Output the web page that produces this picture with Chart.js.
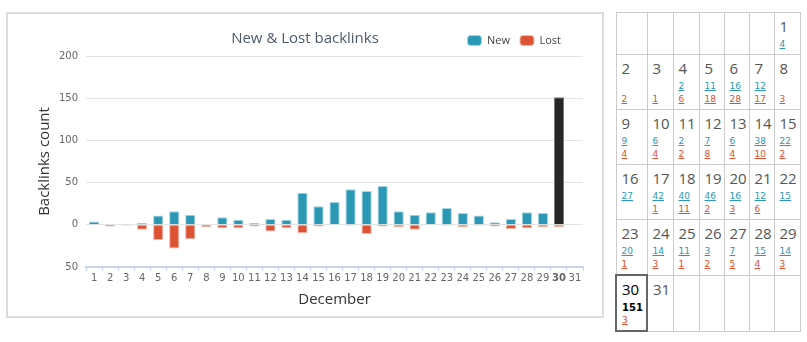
<!DOCTYPE html>
<html>
<head>
<meta charset="utf-8">
<script src="https://cdn.jsdelivr.net/npm/chart.js@4"></script>
<style>
  body { margin: 0; background: #fff; font-family: "Open Sans", sans-serif; }
  #panel { position: absolute; left: 6px; top: 12px; width: 594px; height: 302px; border: 2px solid #ddd; }
  #calendar { position: absolute; left: 615px; top: 12px; width: 185px; border-collapse: collapse; table-layout: fixed; }
  #calendar td { border: 1px solid #ccc; vertical-align: top; padding: 2px 0 3px 5px; overflow: hidden; }
  #calendar .day { font-size: 15px; line-height: 23px; color: #555; }
  #calendar .val { font-family: "DejaVu Sans", sans-serif; font-size: 9px; line-height: 13px; height: 13px; }
  #calendar .val a { text-decoration: underline; }
  #calendar .new a { color: #2b98b6; }
  #calendar .lost a { color: #e0502f; }
  #calendar td.today { border: 2px solid #666; }
  #calendar td.today .day { color: #000; }
  #calendar td.today .new a { color: #000; font-weight: bold; font-size: 10px; text-decoration: none; }
</style>
</head>
<body>
<div id="panel"><canvas id="myChart" width="594" height="302"></canvas></div>
<table id="calendar"></table>
<script>
const days = [1, 2, 3, 4, 5, 6, 7, 8, 9, 10, 11, 12, 13, 14, 15, 16,
  17, 18, 19, 20, 21, 22, 23, 24, 25, 26, 27, 28, 29, 30, 31];
const newLinks = [4, 0, 0, 2, 11, 16, 12, 0, 9, 6, 2, 7, 6, 38, 22, 27,
  42, 40, 46, 16, 12, 15, 20, 14, 11, 3, 7, 15, 14, 151, 0];
const lostLinks = [0, 2, 1, 6, 18, 28, 17, 3, 4, 4, 2, 8, 4, 10, 2, 0,
  1, 11, 2, 3, 6, 0, 1, 3, 1, 2, 5, 4, 3, 3, 0];
const highlightDay = 30;
const firstWeekday = 6; // Dec 1 falls on the 7th column (Sunday)
const chartTitle = "New & Lost backlinks";

const newColor = "#2b98b6";
const lostColor = "#dd5336";
const highlightColor = "#262626";

// calendar table
const cal = document.getElementById("calendar");
const colWidths = [31, 26, 26, 25, 25, 25, 26];
const colgroup = document.createElement("colgroup");
colWidths.forEach((w) => {
  const col = document.createElement("col");
  col.style.width = w + "px";
  colgroup.appendChild(col);
});
cal.appendChild(colgroup);

let row = cal.insertRow();
for (let i = 0; i < firstWeekday; i++) row.insertCell();
days.forEach((d, i) => {
  if (row.cells.length === 7) row = cal.insertRow();
  const cell = row.insertCell();
  if (d === highlightDay) cell.className = "today";
  let html = `<div class="day">${d}</div>`;
  if (newLinks[i] > 0 || lostLinks[i] > 0) {
    html += `<div class="val new">${newLinks[i] > 0 ? `<a>${newLinks[i]}</a>` : ""}</div>`;
  }
  if (lostLinks[i] > 0) {
    html += `<div class="val lost"><a>${lostLinks[i]}</a></div>`;
  }
  cell.innerHTML = html;
});
while (row.cells.length < 7) row.insertCell();

// title drawn on the legend row, legend nudged left
const headerPlugin = {
  id: "header",
  afterLayout(chart) {
    chart.legend.right -= 12;
  },
  afterDraw(chart) {
    const c = chart.ctx;
    const lg = chart.legend;
    c.save();
    c.font = '15px "Open Sans"';
    c.fillStyle = "#4d5b69";
    c.textAlign = "center";
    c.textBaseline = "middle";
    c.fillText(chartTitle, chart.width / 2, lg.top + lg.height / 2 - 2);
    c.restore();
  },
};

const tickFont = { family: "DejaVu Sans", size: 10 };

new Chart(document.getElementById("myChart"), {
  type: "bar",
  data: {
    labels: days,
    datasets: [
      {
        label: "New",
        data: newLinks,
        backgroundColor: (c) => (days[c.dataIndex] === highlightDay ? highlightColor : newColor),
        borderColor: (c) => (days[c.dataIndex] === highlightDay ? "#777" : "#a8d6e3"),
        borderWidth: 1,
        barPercentage: 0.8,
        categoryPercentage: 0.8,
      },
      {
        label: "Lost",
        data: lostLinks.map((v) => -v),
        backgroundColor: lostColor,
        borderColor: "#f2b9aa",
        borderWidth: 1,
        barPercentage: 0.8,
        categoryPercentage: 0.8,
      },
    ],
  },
  options: {
    responsive: false,
    animation: false,
    layout: { padding: { top: 11, right: 19, bottom: 7, left: 23 } },
    plugins: {
      legend: {
        position: "top",
        align: "end",
        labels: {
          boxWidth: 14,
          boxHeight: 10,
          useBorderRadius: true,
          borderRadius: 3,
          padding: 10,
          color: "#444",
          font: { family: "Open Sans", size: 11 },
        },
      },
      tooltip: { enabled: false },
    },
    scales: {
      x: {
        stacked: true,
        grid: { drawOnChartArea: false, offset: true, tickLength: 4, color: "#ccd6eb" },
        border: { color: "#ccd6eb", width: 2 },
        ticks: {
          autoSkip: false,
          maxRotation: 0,
          padding: 1,
          color: "#666",
          font: (c) => ({ ...tickFont, weight: days[c.index] === highlightDay ? "bold" : "normal" }),
        },
        title: {
          display: true,
          text: "December",
          color: "#333",
          font: { family: "Open Sans", size: 15 },
          padding: { top: 6, bottom: 0 },
        },
      },
      y: {
        stacked: true,
        min: -50,
        max: 200,
        grid: { color: "#e3e3e3", drawTicks: false },
        border: { display: false },
        ticks: {
          stepSize: 50,
          padding: 8,
          color: "#666",
          font: tickFont,
          callback: (v) => Math.abs(v),
        },
        title: {
          display: true,
          text: "Backlinks count",
          color: "#333",
          font: { family: "Open Sans", size: 15, lineHeight: 0.8 },
          padding: { top: 8, bottom: 0 },
        },
      },
    },
  },
  plugins: [headerPlugin],
});
</script>
</body>
</html>
